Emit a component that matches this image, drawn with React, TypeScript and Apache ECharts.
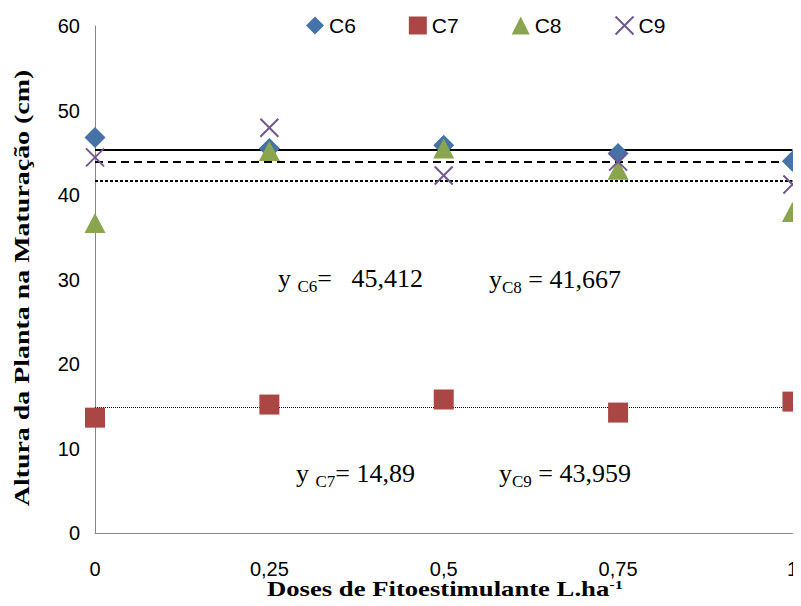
import React, { useEffect, useRef } from "react";
import * as echarts from "echarts";

const doses = [0, 0.25, 0.5, 0.75, 1];
const c6 = [46.8, 45.5, 45.9, 44.9, 44.0];
const c7 = [13.65, 15.2, 15.8, 14.25, 15.55];
const c8 = [36.7, 45.2, 45.5, 43.0, 38.0];
const c9 = [44.45, 47.95, 42.3, 43.95, 41.25];
const seriesNames = ["C6", "C7", "C8", "C9"];
const meanValues = [45.412, 14.89, 41.667, 43.959];
const meanLabels = ["45,412", "14,89", "41,667", "43,959"];
const yTicks = { min: 0, max: 60, interval: 10 };
const xTicks = { min: 0, max: 1, interval: 0.25 };
const xTitle = "Doses de Fitoestimulante L.ha";
const xTitleSup = "-1";
const yTitle = "Altura da Planta na Maturação (cm)";

const colors = ["#4572A7", "#AA4643", "#89A54E", "#71588F"];
const symbols = ["diamond", "rect", "triangle", "path://M0,0L20,20M20,0L0,20"];
const symbolSizes: any[] = [[21, 21], [20, 20], [21, 20], [18, 18]];
const lineStyles: any[] = [
  { type: "solid", width: 2 },
  { type: [1, 1], width: 1 },
  { type: [3, 2], width: 2 },
  { type: [8, 5], width: 2 },
];
const allData = [c6, c7, c8, c9];

export default function App() {
  const ref = useRef<HTMLDivElement>(null);
  useEffect(() => {
    if (!ref.current) return;
    const chart = echarts.init(ref.current, undefined, { renderer: "svg" });
    const series: any[] = seriesNames.map((name, i) => ({
      name,
      type: "scatter",
      data: doses.map((d, j) => [d, allData[i][j]]),
      symbol: symbols[i],
      symbolSize: symbolSizes[i],
      itemStyle:
        i === 3
          ? { color: colors[i], borderColor: colors[i], borderWidth: 2, opacity: 1 }
          : { color: colors[i], opacity: 1 },
      markLine: {
        silent: true,
        symbol: "none",
        label: { show: false },
        lineStyle: { color: "#000", ...lineStyles[i] },
        data: [{ yAxis: meanValues[i] }],
        z: 1,
      },
      z: 3,
    }));

    const serif = "'Liberation Serif', 'Times New Roman', serif";
    const sans = "'Liberation Sans', Arial, sans-serif";
    const eqText = (sub: string, value: string, gap: string, left: number, top: number) => ({
      type: "text",
      left,
      top,
      style: {
        text: `{m|y${gap}}{s|${sub}}{m|${value}}`,
        rich: {
          m: { fontFamily: serif, fontSize: 26, fill: "#000", verticalAlign: "bottom" },
          s: { fontFamily: serif, fontSize: 17, fill: "#000", verticalAlign: "bottom", padding: [0, 0, -4, 0] },
        },
      },
    });

    chart.setOption({
      animation: false,
      backgroundColor: "#fff",
      grid: { left: 95, right: 6, top: 26, bottom: 73 },
      legend: {
        data: seriesNames,
        left: 301,
        top: 10,
        itemWidth: 18,
        itemHeight: 18,
        itemGap: 53,
        textStyle: { fontFamily: sans, fontSize: 21, color: "#000" },
      },
      xAxis: {
        type: "value",
        ...xTicks,
        axisLine: { show: true, lineStyle: { color: "#868686", width: 1 } },
        axisTick: { show: false },
        splitLine: { show: false },
        axisLabel: {
          margin: 26,
          fontFamily: sans,
          fontSize: 20,
          color: "#000",
          formatter: (v: number) => String(v).replace(".", ","),
        },
      },
      yAxis: {
        type: "value",
        ...yTicks,
        axisLine: { show: true, lineStyle: { color: "#868686", width: 1 } },
        axisTick: { show: false },
        splitLine: { show: false },
        axisLabel: { margin: 15, fontFamily: sans, fontSize: 20, color: "#000" },
      },
      graphic: [
        eqText("C6", "=   " + meanLabels[0], " ", 278, 265),
        eqText("C8", " = " + meanLabels[2], "", 489, 266),
        eqText("C7", "= " + meanLabels[1], " ", 296, 460),
        eqText("C9", " = " + meanLabels[3], "", 499, 460),
        {
          type: "text",
          x: 445,
          y: 589,
          scaleX: 1.27,
          style: {
            x: 0,
            y: 0,
            align: "center",
            verticalAlign: "middle",
            text: `{a|${xTitle}}{b|${xTitleSup}}`,
            rich: {
              a: { fontFamily: serif, fontSize: 21, fontWeight: "bold", fill: "#000", verticalAlign: "bottom" },
              b: { fontFamily: serif, fontSize: 13, fontWeight: "bold", fill: "#000", verticalAlign: "bottom", padding: [0, 0, 8, 0] },
            },
          },
        },
        {
          type: "text",
          x: 22,
          y: 288,
          rotation: Math.PI / 2,
          scaleX: 1.27,
          style: {
            x: 0,
            y: 0,
            align: "center",
            verticalAlign: "middle",
            text: yTitle,
            fontFamily: serif,
            fontSize: 22,
            fontWeight: "bold",
            fill: "#000",
          },
        },
      ],
      series,
    });
    return () => chart.dispose();
  }, []);
  return <div ref={ref} style={{ width: 801, height: 606, margin: -8 }} />;
}
